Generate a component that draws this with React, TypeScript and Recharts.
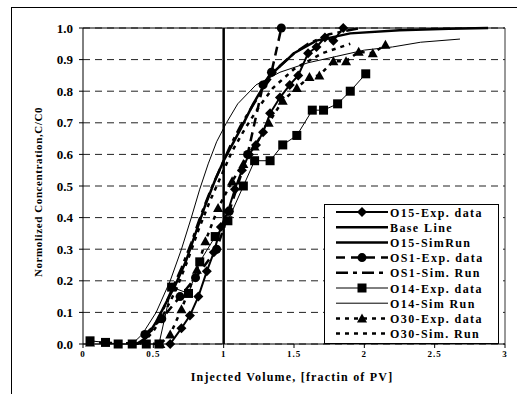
import React from 'react';
import { ComposedChart, Line, XAxis, YAxis, CartesianGrid, ReferenceLine, Label } from 'recharts';

const FONT = '"Liberation Serif", "Times New Roman", serif';

// x = injected volume (fraction of PV), y = C/C0
const o15Exp = [
  { x: 0.62, y: 0.0 }, { x: 0.7, y: 0.05 }, { x: 0.76, y: 0.09 }, { x: 0.82, y: 0.15 },
  { x: 0.88, y: 0.23 }, { x: 0.93, y: 0.29 }, { x: 0.98, y: 0.37 }, { x: 1.03, y: 0.42 },
  { x: 1.08, y: 0.49 }, { x: 1.13, y: 0.55 }, { x: 1.18, y: 0.6 }, { x: 1.23, y: 0.63 },
  { x: 1.28, y: 0.67 }, { x: 1.33, y: 0.73 }, { x: 1.4, y: 0.78 }, { x: 1.47, y: 0.82 },
  { x: 1.53, y: 0.85 }, { x: 1.6, y: 0.92 }, { x: 1.66, y: 0.94 }, { x: 1.72, y: 0.97 },
  { x: 1.78, y: 0.96 }, { x: 1.85, y: 1.0 },
];
const baseLine = [{ x: 1, y: 0 }, { x: 1, y: 1 }];
const o15Sim = [
  { x: 0.38, y: 0.0 }, { x: 0.45, y: 0.02 }, { x: 0.52, y: 0.07 }, { x: 0.59, y: 0.13 },
  { x: 0.66, y: 0.19 }, { x: 0.73, y: 0.26 }, { x: 0.8, y: 0.35 }, { x: 0.87, y: 0.44 },
  { x: 0.94, y: 0.52 }, { x: 1.0, y: 0.58 }, { x: 1.06, y: 0.63 }, { x: 1.12, y: 0.68 },
  { x: 1.21, y: 0.76 }, { x: 1.33, y: 0.85 }, { x: 1.5, y: 0.92 }, { x: 1.66, y: 0.96 },
  { x: 1.9, y: 0.983 }, { x: 2.25, y: 0.993 }, { x: 2.6, y: 0.998 }, { x: 2.88, y: 1.0 },
];
const os1Exp = [
  { x: 0.44, y: 0.03 }, { x: 0.56, y: 0.08 }, { x: 0.69, y: 0.15 }, { x: 0.8, y: 0.21 },
  { x: 0.95, y: 0.3 }, { x: 1.04, y: 0.42 }, { x: 1.17, y: 0.6 }, { x: 1.28, y: 0.82 },
  { x: 1.34, y: 0.86 }, { x: 1.41, y: 1.0 },
];
const os1Sim = [
  { x: 0.4, y: 0.0 }, { x: 0.47, y: 0.03 }, { x: 0.55, y: 0.09 }, { x: 0.62, y: 0.16 },
  { x: 0.7, y: 0.24 }, { x: 0.77, y: 0.32 }, { x: 0.84, y: 0.41 }, { x: 0.91, y: 0.49 },
  { x: 0.98, y: 0.56 }, { x: 1.05, y: 0.63 }, { x: 1.12, y: 0.69 }, { x: 1.2, y: 0.75 },
  { x: 1.3, y: 0.82 }, { x: 1.4, y: 0.88 }, { x: 1.5, y: 0.92 }, { x: 1.6, y: 0.95 },
  { x: 1.75, y: 0.98 }, { x: 1.97, y: 1.0 },
];
const o14Exp = [
  { x: 0.05, y: 0.01 }, { x: 0.16, y: 0.005 }, { x: 0.25, y: 0.0 }, { x: 0.35, y: 0.0 },
  { x: 0.45, y: 0.0 }, { x: 0.54, y: 0.0 }, { x: 0.63, y: 0.18 }, { x: 0.75, y: 0.16 },
  { x: 0.83, y: 0.26 }, { x: 0.94, y: 0.34 }, { x: 1.03, y: 0.39 }, { x: 1.14, y: 0.5 },
  { x: 1.22, y: 0.58 }, { x: 1.33, y: 0.58 }, { x: 1.42, y: 0.63 }, { x: 1.52, y: 0.66 },
  { x: 1.63, y: 0.74 }, { x: 1.71, y: 0.74 }, { x: 1.81, y: 0.76 }, { x: 1.9, y: 0.8 },
  { x: 2.01, y: 0.855 },
];
const o14Sim = [
  { x: 0.35, y: 0.0 }, { x: 0.42, y: 0.03 }, { x: 0.52, y: 0.1 }, { x: 0.62, y: 0.2 },
  { x: 0.7, y: 0.3 }, { x: 0.77, y: 0.4 }, { x: 0.83, y: 0.49 }, { x: 0.89, y: 0.57 },
  { x: 0.95, y: 0.64 }, { x: 1.02, y: 0.7 }, { x: 1.1, y: 0.76 }, { x: 1.23, y: 0.82 },
  { x: 1.4, y: 0.86 }, { x: 1.6, y: 0.89 }, { x: 1.8, y: 0.91 }, { x: 2.0, y: 0.93 },
  { x: 2.2, y: 0.94 }, { x: 2.4, y: 0.955 }, { x: 2.68, y: 0.965 },
];
const o30Exp = [
  { x: 0.05, y: 0.005 }, { x: 0.55, y: 0.0 }, { x: 0.62, y: 0.03 }, { x: 0.7, y: 0.11 },
  { x: 0.81, y: 0.235 }, { x: 0.87, y: 0.325 }, { x: 0.96, y: 0.43 }, { x: 1.06, y: 0.515 },
  { x: 1.14, y: 0.57 }, { x: 1.22, y: 0.625 }, { x: 1.32, y: 0.7 }, { x: 1.42, y: 0.77 },
  { x: 1.52, y: 0.81 }, { x: 1.61, y: 0.845 }, { x: 1.68, y: 0.85 }, { x: 1.78, y: 0.895 },
  { x: 1.87, y: 0.895 }, { x: 1.96, y: 0.925 }, { x: 2.06, y: 0.92 }, { x: 2.15, y: 0.947 },
];
const o30Sim = [
  { x: 0.42, y: 0.0 }, { x: 0.5, y: 0.04 }, { x: 0.58, y: 0.1 }, { x: 0.66, y: 0.17 },
  { x: 0.74, y: 0.26 }, { x: 0.82, y: 0.36 }, { x: 0.9, y: 0.45 }, { x: 0.98, y: 0.53 },
  { x: 1.06, y: 0.61 }, { x: 1.15, y: 0.68 }, { x: 1.25, y: 0.75 }, { x: 1.35, y: 0.81 },
  { x: 1.5, y: 0.87 }, { x: 1.7, y: 0.92 }, { x: 1.9, y: 0.95 },
];

const xTicks = [0, 0.5, 1, 1.5, 2, 2.5, 3];
const yTicks = [0, 0.1, 0.2, 0.3, 0.4, 0.5, 0.6, 0.7, 0.8, 0.9, 1.0];

type Marker = 'diamond' | 'circle' | 'square' | 'triangle' | null;

const markerPath = (m: Marker, cx: number, cy: number) => {
  if (m === 'diamond') return <path d={`M${cx},${cy - 5}L${cx + 5},${cy}L${cx},${cy + 5}L${cx - 5},${cy}Z`} fill="#000" />;
  if (m === 'circle') return <circle cx={cx} cy={cy} r={4.5} fill="#000" />;
  if (m === 'square') return <rect x={cx - 4.5} y={cy - 4.5} width={9} height={9} fill="#000" />;
  if (m === 'triangle') return <path d={`M${cx},${cy - 5}L${cx + 5},${cy + 4}L${cx - 5},${cy + 4}Z`} fill="#000" />;
  return null;
};

const series = [
  { name: 'O15-Exp. data', data: o15Exp, width: 2, dash: undefined, marker: 'diamond' as Marker },
  { name: 'Base Line', data: baseLine, width: 2.5, dash: undefined, marker: null as Marker },
  { name: 'O15-SimRun', data: o15Sim, width: 2.5, dash: undefined, marker: null as Marker },
  { name: 'OS1-Exp. data', data: os1Exp, width: 2.5, dash: '9 6', marker: 'circle' as Marker },
  { name: 'OS1-Sim. Run', data: os1Sim, width: 2.5, dash: '12 5 4 5', marker: null as Marker },
  { name: 'O14-Exp. data', data: o14Exp, width: 1, dash: undefined, marker: 'square' as Marker },
  { name: 'O14-Sim Run', data: o14Sim, width: 1, dash: undefined, marker: null as Marker },
  { name: 'O30-Exp. data', data: o30Exp, width: 2.5, dash: '4 5', marker: 'triangle' as Marker },
  { name: 'O30-Sim. Run', data: o30Sim, width: 2.5, dash: '4 5', marker: null as Marker },
];

const LegendBox = () => (
  <div style={{ position: 'absolute', left: 324, top: 204, width: 175, height: 140, boxSizing: 'border-box', border: '1px solid #000', background: '#fff' }}>
    <svg width={173} height={138} style={{ display: 'block' }}>
      {series.map((s, i) => {
        const y = 7 + i * 15.2;
        return (
          <g key={s.name}>
            <line x1={11} x2={63} y1={y} y2={y} stroke="#000" strokeWidth={s.width} strokeDasharray={s.dash} />
            {markerPath(s.marker, 37, y)}
            <text x={65} y={y + 4.5} fontFamily={FONT} fontWeight="bold" fontSize={12} letterSpacing={1.4} fill="#000">
              {s.name}
            </text>
          </g>
        );
      })}
    </svg>
  </div>
);

const makeDot = (m: Marker) => (props: any) => {
  const { cx, cy, index } = props;
  if (cx == null || cy == null) return <g key={index} />;
  return <g key={index}>{markerPath(m, cx, cy)}</g>;
};

export default function App() {
  return (
    <div style={{ position: 'absolute', left: 0, top: 0, width: 517, height: 394, overflow: 'hidden', background: '#fff' }}>
      <div style={{ position: 'absolute', left: 11, top: 7, width: 600, height: 500, border: '1px solid #000' }} />
      <div style={{ position: 'absolute', left: 0, top: 0 }}>
        <ComposedChart width={517} height={394} margin={{ top: 28, right: 12, left: 0, bottom: 20 }}>
          <CartesianGrid vertical={false} stroke="#222" strokeDasharray="7 5" />
          <XAxis
            type="number"
            dataKey="x"
            domain={[0, 3]}
            ticks={xTicks}
            height={30}
            stroke="#000"
            tickSize={4}
            tickMargin={3}
            tick={{ fontFamily: FONT, fontWeight: 'bold', fontSize: 9, fill: '#000', letterSpacing: 1 }}
            allowDuplicatedCategory={false}
          >
            <Label
              content={({ viewBox }: any) => (
                <text x={viewBox.x + viewBox.width / 2 - 2} y={viewBox.y + 37} textAnchor="middle" fontFamily={FONT} fontWeight="bold" fontSize={12} letterSpacing={1.2} fill="#000">
                  Injected Volume, [fractin of PV]
                </text>
              )}
            />
          </XAxis>
          <YAxis
            type="number"
            domain={[0, 1]}
            ticks={yTicks}
            width={83}
            stroke="#000"
            tickSize={4}
            tickMargin={6}
            tickFormatter={(v: number) => v.toFixed(1)}
            tick={{ fontFamily: FONT, fontWeight: 'bold', fontSize: 13, fill: '#000' }}
          >
            <Label
              content={({ viewBox }: any) => {
                const cx = viewBox.x + 38;
                const cy = viewBox.y + viewBox.height / 2 + 6;
                return (
                  <text x={cx} y={cy} transform={`rotate(-90 ${cx} ${cy})`} textAnchor="middle" dominantBaseline="central" fontFamily={FONT} fontWeight="bold" fontSize={11} letterSpacing={0.6} fill="#000">
                    Normolized Concentration,C/C0
                  </text>
                );
              }}
            />
          </YAxis>
          <ReferenceLine y={1} stroke="#000" strokeWidth={1} />
          <ReferenceLine x={3} stroke="#333" strokeWidth={1} />
          {series.map((s) => (
            <Line
              key={s.name}
              name={s.name}
              data={s.data}
              dataKey="y"
              type="linear"
              stroke="#000"
              strokeWidth={s.width}
              strokeDasharray={s.dash}
              dot={s.marker ? makeDot(s.marker) : false}
              activeDot={false}
              isAnimationActive={false}
            />
          ))}
        </ComposedChart>
      </div>
      <LegendBox />
    </div>
  );
}
